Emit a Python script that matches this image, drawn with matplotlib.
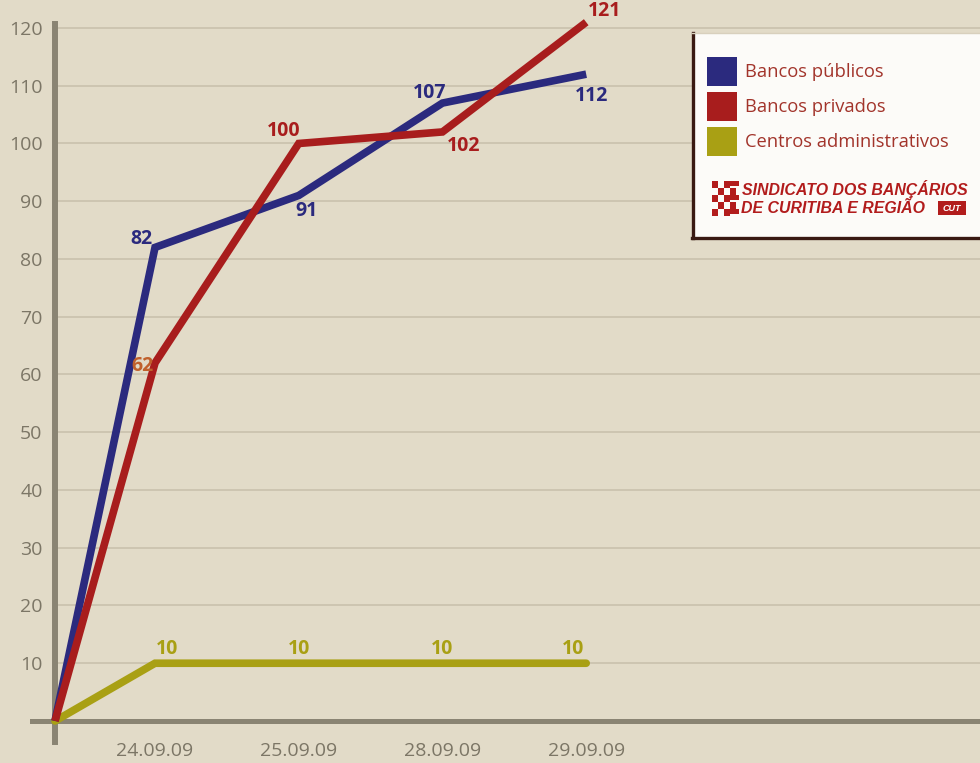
import matplotlib
matplotlib.use("Agg")
import matplotlib.pyplot as plt
from matplotlib.patches import Rectangle
from matplotlib.lines import Line2D
import numpy as np

# ---- data ----
dates = ["24.09.09", "25.09.09", "28.09.09", "29.09.09"]
series_names = ["Bancos públicos", "Bancos privados", "Centros administrativos"]
publicos = [0, 82, 91, 107, 112]
privados = [0, 62, 100, 102, 121]
centros = [0, 10, 10, 10, 10]
y_ticks = list(range(10, 121, 10))

# ---- style ----
BG = "#e2dbc8"
AXC = "#8a8473"
GRID = "#cbc3af"
TICKC = "#7c7666"
BLUE = "#2b2a7e"
RED = "#a81d1d"
OLIVE = "#a9a014"
FONT = ["Open Sans", "DejaVu Sans"]
plt.rcParams["font.family"] = FONT

W, H = 980, 763
fig = plt.figure(figsize=(W / 100, H / 100), dpi=100)
fig.patch.set_facecolor(BG)

ax_left, ax_right, ax_top, ax_bot = 55, 980, 24, 742
ax = fig.add_axes([ax_left / W, 1 - ax_bot / H, (ax_right - ax_left) / W, (ax_bot - ax_top) / H])
ax.set_facecolor(BG)

origin = -0.696
x = np.concatenate([[origin], np.arange(len(dates))])
ax.set_xlim(origin, 5.74)
ax.set_ylim(-3.64, 120.69)

for s in ["top", "right", "bottom"]:
    ax.spines[s].set_visible(False)
ax.spines["left"].set_color(AXC)
ax.spines["left"].set_linewidth(4.3)

for yv in y_ticks:
    ax.axhline(yv, color=GRID, lw=1.3, zorder=1)
ax.axhline(0, xmin=-23 / 925, xmax=1, color=AXC, lw=3.6, clip_on=False, zorder=2)

ax.set_yticks(y_ticks)
ax.set_yticklabels([str(v) for v in y_ticks], fontsize=14, color=TICKC)
ax.set_xticks(np.arange(len(dates)))
ax.set_xticklabels(dates, fontsize=14, color=TICKC)
ax.tick_params(axis="y", length=0, pad=9)
ax.tick_params(axis="x", length=0, pad=0)

lw = 5.5
ax.plot(x, centros, color=OLIVE, lw=lw, solid_capstyle="round", solid_joinstyle="miter", zorder=3, clip_on=False)
ax.plot(x, publicos, color=BLUE, lw=lw, solid_capstyle="butt", solid_joinstyle="miter", zorder=4, clip_on=False)
ax.plot(x, privados, color=RED, lw=lw, solid_capstyle="butt", solid_joinstyle="miter", zorder=5, clip_on=False)

def lab(xv, yv, text, dx, dy, color):
    ax.annotate(text, (xv, yv), xytext=(dx, dy), textcoords="offset pixels",
                ha="center", va="center", fontsize=14, fontweight="bold",
                color=color, zorder=7, annotation_clip=False)

pub_off = [(-14, 8), (8, -16), (-13, 10), (5, -22)]
pri_off = [(-13, -3), (-15, 12), (21, -14), (18, 11)]
cen_off = [(12, 14), (0, 14), (0, 14), (-13, 14)]
for i in range(len(dates)):
    lab(i, publicos[i + 1], str(publicos[i + 1]), *pub_off[i], BLUE)
    lab(i, privados[i + 1], str(privados[i + 1]), *pri_off[i], "#c0602c" if i == 0 else RED)
    lab(i, centros[i + 1], str(centros[i + 1]), *cen_off[i], OLIVE)

# ---- legend box (figure pixel coords) ----
def fx(px):
    return px / W

def fy(py):
    return 1 - py / H

fig.patches.append(Rectangle((fx(692), fy(238)), fx(300), 205 / H, transform=fig.transFigure,
                             facecolor="#fcfbf8", edgecolor="none", zorder=10))
fig.lines.append(Line2D([fx(693), fx(693)], [fy(33), fy(238)], transform=fig.transFigure,
                        color="#3a1a12", lw=2.4, zorder=11))
fig.lines.append(Line2D([fx(692), fx(985)], [fy(237.5), fy(237.5)], transform=fig.transFigure,
                        color="#3a1a12", lw=2.4, zorder=11))
fig.lines.append(Line2D([fx(692), fx(985)], [fy(33), fy(33)], transform=fig.transFigure,
                        color="#d8d0bd", lw=1, zorder=11))

sq_y = [57, 92, 127]
cols = [BLUE, RED, OLIVE]
for yy, c, name in zip(sq_y, cols, series_names):
    fig.patches.append(Rectangle((fx(707), fy(yy + 29)), 30 / W, 29 / H, transform=fig.transFigure,
                                 facecolor=c, edgecolor="none", zorder=12))
    fig.text(fx(745), fy(yy + 15), name, fontsize=13.2, color="#a2342b",
             ha="left", va="center", zorder=12)

# logo icon (small checkered mark)
LOGO = "#b21c1c"
cells = [(0, 0), (2, 0), (1, 1), (3, 1), (0, 2), (2, 2), (1, 3), (3, 3), (0, 4), (2, 4)]
for cx, cy in cells:
    fig.patches.append(Rectangle((fx(712 + cx * 6), fy(181 + cy * 7 + 7)), 6 / W, 7 / H,
                                 transform=fig.transFigure, facecolor=LOGO, edgecolor="none", zorder=12))
for ry in [181, 195, 209]:
    fig.patches.append(Rectangle((fx(728), fy(ry + 5)), 11 / W, 5 / H, transform=fig.transFigure,
                                 facecolor=LOGO, edgecolor="none", zorder=12))

logo_font = ["Liberation Sans Narrow", "Liberation Sans", "DejaVu Sans"]
fig.text(fx(742), fy(189), "SINDICATO DOS BANÇÁRIOS", fontsize=11.4, fontweight="bold",
         fontstyle="italic", color=LOGO, ha="left", va="center", family=logo_font, zorder=12)
fig.text(fx(741), fy(208), "DE CURITIBA E REGIÃO", fontsize=11.4, fontweight="bold",
         fontstyle="italic", color=LOGO, ha="left", va="center", family=logo_font, zorder=12)
fig.patches.append(Rectangle((fx(938), fy(215)), 28 / W, 14 / H, transform=fig.transFigure,
                             facecolor=LOGO, edgecolor="none", zorder=12))
fig.text(fx(952), fy(208.5), "CUT", fontsize=6.5, fontweight="bold", fontstyle="italic",
         color="white", ha="center", va="center", family=logo_font, zorder=13)

fig.savefig("out.png", dpi=100, facecolor=BG)
